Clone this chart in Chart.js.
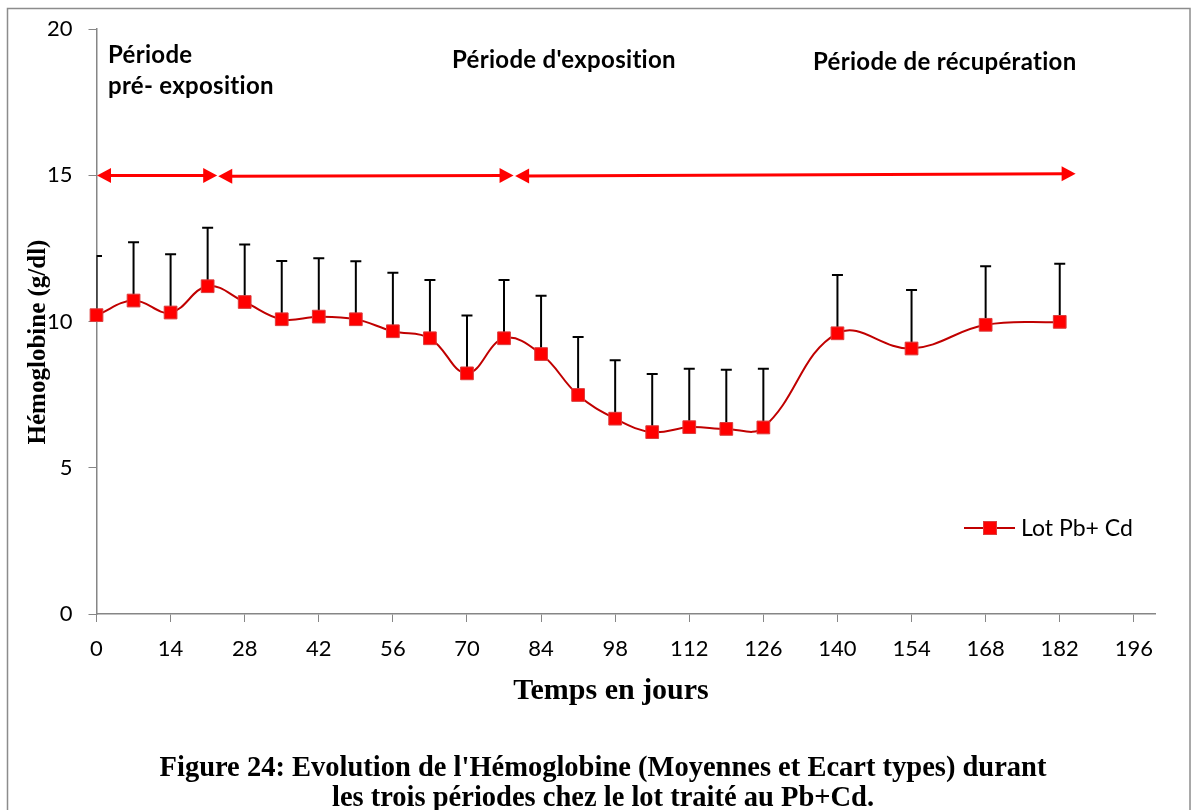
<!DOCTYPE html>
<html>
<head>
<meta charset="utf-8">
<title>Hémoglobine - Lot Pb+Cd</title>
<script src="https://cdn.jsdelivr.net/npm/chart.js@4.4.1/dist/chart.umd.min.js"></script>
<style>
    body { margin: 0; background: #fff; }
    #wrap { width: 1195px; height: 810px; }
</style>
</head>
<body>
<div id="wrap"><canvas id="hbChart" width="1195" height="810"></canvas></div>

<script>
// sampling days and hemoglobin (g/dl): means and standard deviations
const days = [0, 7, 14, 21, 28, 35, 42, 49, 56, 63, 70, 77, 84, 91, 98, 105, 112, 119, 126, 140, 154, 168, 182];
const hbMean = [10.22, 10.72, 10.31, 11.21, 10.67, 10.08, 10.17, 10.08, 9.67, 9.43, 8.23, 9.43,
                8.89, 7.49, 6.68, 6.22, 6.39, 6.33, 6.38, 9.60, 9.08, 9.89, 9.99];
const hbSd = [2.02, 1.99, 1.99, 2.00, 1.97, 1.99, 2.00, 1.98, 2.00, 1.99, 1.98, 1.99,
              1.99, 1.98, 2.00, 1.99, 2.00, 2.02, 2.01, 1.99, 2.00, 2.00, 1.99];
const seriesLabel = 'Lot Pb+ Cd';

// axis setup
const xTicks = [0, 14, 28, 42, 56, 70, 84, 98, 112, 126, 140, 154, 168, 182, 196];
const xMax = 200;
const yMax = 20;
const yStep = 5;

// period arrows: [from day, to day, value at start, value at end]
const periodArrows = [
    [0.1, 22.8, 15.0, 15.0],
    [23.0, 78.8, 14.97, 15.0],
    [79.1, 185.0, 14.98, 15.06]
];
const periodNames = [['Période', 'pré- exposition'], ["Période d'exposition"], ['Période de récupération']];

const xTitle = 'Temps en jours';
const yTitle = 'Hémoglobine (g/dl)';
const caption = [
    "Figure 24: Evolution de l'Hémoglobine (Moyennes et Ecart types) durant",
    'les trois périodes chez le lot traité au Pb+Cd.'
];

const LINE_RED = '#c00000';
const MARK_RED = '#ff0000';
const AXIS_GREY = '#868686';

function arrowHead(ctx, x, y, dir) {
    ctx.beginPath();
    ctx.moveTo(x, y);
    ctx.lineTo(x - dir * 14, y - 7.5);
    ctx.lineTo(x - dir * 14, y + 7.5);
    ctx.closePath();
    ctx.fill();
}

const decor = {
    id: 'decor',
    // upper error bars, under the markers
    beforeDatasetsDraw(chart) {
        const { ctx, chartArea } = chart;
        const xs = chart.scales.x, ys = chart.scales.y;
        ctx.save();
        ctx.beginPath();
        ctx.rect(chartArea.left, 0, chart.width - chartArea.left, chart.height);
        ctx.clip();
        ctx.strokeStyle = '#000';
        ctx.lineWidth = 2;
        days.forEach((d, i) => {
            const x = xs.getPixelForValue(d);
            const y0 = ys.getPixelForValue(hbMean[i]);
            const y1 = ys.getPixelForValue(hbMean[i] + hbSd[i]);
            ctx.beginPath();
            ctx.moveTo(x, y0);
            ctx.lineTo(x, y1);
            ctx.moveTo(x - 5.5, y1);
            ctx.lineTo(x + 5.5, y1);
            ctx.stroke();
        });
        ctx.restore();
    },
    afterDraw(chart) {
        const { ctx } = chart;
        const xs = chart.scales.x, ys = chart.scales.y;
        ctx.save();

        // period arrows
        ctx.strokeStyle = '#ff0000';
        ctx.fillStyle = '#ff0000';
        ctx.lineWidth = 3;
        periodArrows.forEach(([d0, d1, v0, v1]) => {
            const x0 = xs.getPixelForValue(d0), x1 = xs.getPixelForValue(d1);
            const y0 = ys.getPixelForValue(v0), y1 = ys.getPixelForValue(v1);
            ctx.beginPath();
            ctx.moveTo(x0 + 10, y0);
            ctx.lineTo(x1 - 10, y1);
            ctx.stroke();
            arrowHead(ctx, x0, y0, -1);
            arrowHead(ctx, x1, y1, 1);
        });

        // period names (small letter spacing keeps Lato from joining "ti")
        ctx.fillStyle = '#000';
        ctx.textAlign = 'left';
        ctx.textBaseline = 'alphabetic';
        ctx.letterSpacing = '0.3px';
        ctx.font = 'bold 24px Lato';
        ctx.fillText(periodNames[0][0], 108, 63);
        ctx.fillText(periodNames[0][1], 108, 94);
        ctx.fillText(periodNames[1][0], 452, 68);
        ctx.fillText(periodNames[2][0], 813, 70);
        ctx.letterSpacing = '0px';

        // legend
        const ds = chart.data.datasets[0];
        ctx.strokeStyle = ds.borderColor;
        ctx.lineWidth = 2;
        ctx.beginPath();
        ctx.moveTo(964, 528);
        ctx.lineTo(1015, 528);
        ctx.stroke();
        ctx.fillStyle = ds.pointBackgroundColor;
        ctx.fillRect(983.5, 521.5, 13, 13);
        ctx.strokeStyle = ds.pointBorderColor;
        ctx.lineWidth = 1;
        ctx.strokeRect(983.5, 521.5, 13, 13);
        ctx.fillStyle = '#000';
        ctx.font = '23px Lato';
        ctx.fillText(seriesLabel, 1021, 536);

        // axis titles and caption
        ctx.textAlign = 'center';
        ctx.font = 'bold 30px "Liberation Serif"';
        ctx.fillText(xTitle, 611, 699);
        ctx.font = 'bold 28.5px "Liberation Serif"';
        ctx.fillText(caption[0], 603, 776);
        ctx.fillText(caption[1], 603, 806);

        ctx.save();
        ctx.translate(45, 342);
        ctx.rotate(-Math.PI / 2);
        ctx.font = 'bold 25px "Liberation Serif"';
        ctx.fillText(yTitle, 0, 0);
        ctx.restore();

        // frame round the figure
        ctx.strokeStyle = '#8c8c8c';
        ctx.lineWidth = 1.5;
        ctx.strokeRect(7.5, 8.5, 1182.5, 830);
        ctx.restore();
    }
};

const tickFont = { family: 'Lato', size: 22 };

new Chart(document.getElementById('hbChart'), {
    type: 'line',
    data: {
        datasets: [{
            label: seriesLabel,
            data: days.map((d, i) => ({ x: d, y: hbMean[i] })),
            borderColor: LINE_RED,
            borderWidth: 2,
            tension: 0.4,
            pointStyle: 'rect',
            pointRadius: 9,
            pointHoverRadius: 9,
            pointBackgroundColor: MARK_RED,
            pointBorderColor: '#dc3c3c',
            pointBorderWidth: 1,
            clip: false
        }]
    },
    options: {
        responsive: false,
        devicePixelRatio: 1,
        animation: false,
        events: [],
        layout: { padding: { left: 0, top: 25, right: 40, bottom: 0 } },
        plugins: {
            legend: { display: false },
            tooltip: { enabled: false }
        },
        scales: {
            x: {
                type: 'linear',
                min: 0,
                max: xMax,
                afterBuildTicks: s => { s.ticks = xTicks.map(v => ({ value: v })); },
                afterFit: s => { s.height = 196; },
                grid: { drawOnChartArea: false, drawTicks: true, tickLength: 8, color: AXIS_GREY },
                border: { color: AXIS_GREY, width: 1.5 },
                ticks: { autoSkip: false, maxRotation: 0, font: tickFont, color: '#000', padding: 14 }
            },
            y: {
                min: 0,
                max: yMax,
                afterFit: s => { s.width = 96.5; },
                grid: { drawOnChartArea: false, drawTicks: true, tickLength: 8, color: AXIS_GREY },
                border: { color: AXIS_GREY, width: 1.5 },
                ticks: { stepSize: yStep, font: tickFont, color: '#000', padding: 16 }
            }
        }
    },
    plugins: [decor]
});
</script>
</body>
</html>
